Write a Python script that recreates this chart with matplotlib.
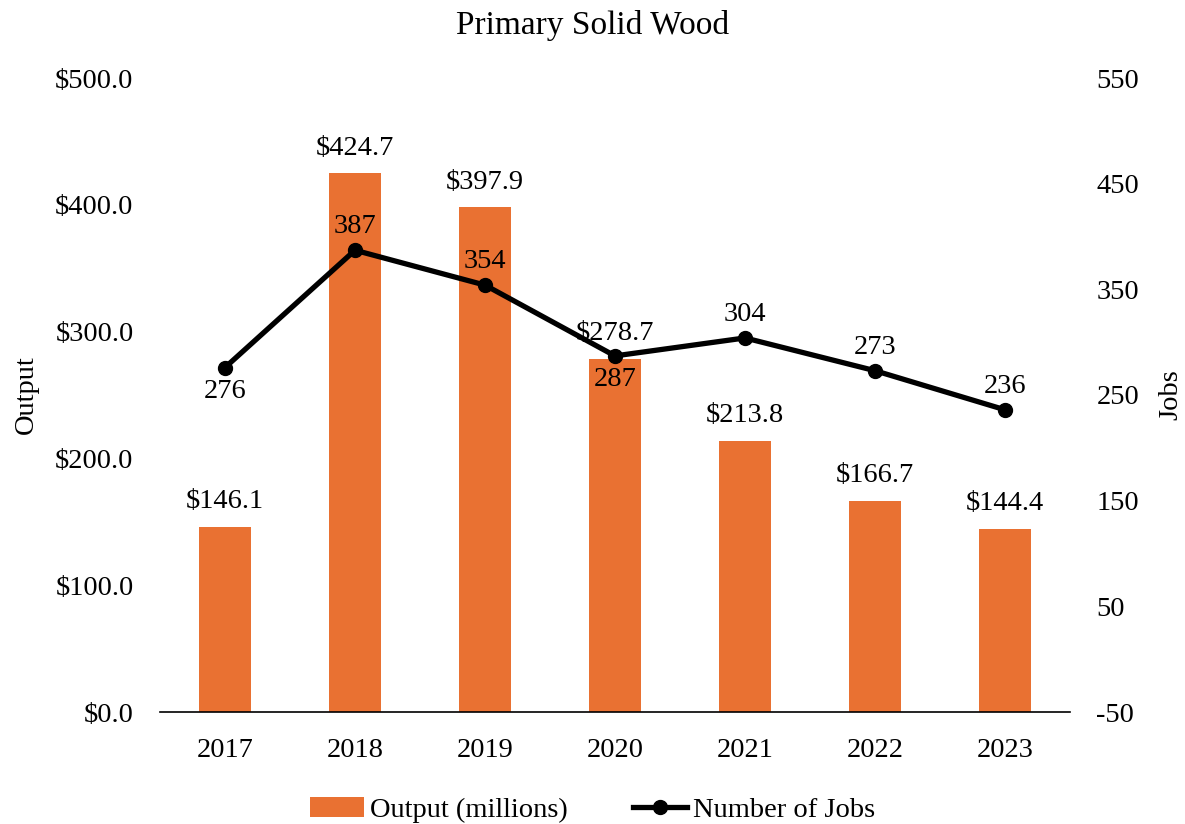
import matplotlib
matplotlib.use("Agg")
import matplotlib.pyplot as plt

years = ["2017", "2018", "2019", "2020", "2021", "2022", "2023"]
output = [146.1, 424.7, 397.9, 278.7, 213.8, 166.7, 144.4]
jobs = [276, 387, 354, 287, 304, 273, 236]
job_label_pos = ["below", "above", "above", "below", "above", "above", "above"]
left_ticks = [0, 100, 200, 300, 400, 500]
right_ticks = [-50, 50, 150, 250, 350, 450, 550]

plt.rcParams['font.family'] = ['Liberation Serif', 'DejaVu Serif']
FS = 20.5
fig = plt.figure(figsize=(11.85, 8.24), dpi=100)
ax = fig.add_axes([160/1185, 1-712/824, 910/1185, (712-78)/824])
ax2 = ax.twinx()

x = list(range(len(years)))
bars = ax.bar(x, output, width=0.4, color="#E97132", label="Output (millions)", zorder=2)
ax.set_xlim(-0.5, len(years)-0.5)
ax.set_ylim(0, 500)
ax.set_yticks(left_ticks)
ax.set_yticklabels([f"${v:.1f}" for v in left_ticks], fontsize=FS)
ax.set_xticks(x)
ax.set_xticklabels(years, fontsize=FS)
ax.tick_params(axis='x', length=0, pad=19)
ax.tick_params(axis='y', length=0, pad=19)
for s in ["top", "left", "right"]:
    ax.spines[s].set_visible(False)
ax.spines["bottom"].set_linewidth(1.2)
for xi, v in zip(x, output):
    ax.annotate(f"${v:.1f}", (xi, v), xytext=(0, 9), textcoords="offset points",
                ha="center", va="bottom", fontsize=FS)
ax.set_ylabel("Output", fontsize=FS, labelpad=12)

ln, = ax2.plot(x, jobs, color="black", lw=3.8, marker="o", markersize=10,
               label="Number of Jobs", zorder=3)
ax2.set_ylim(-50, 550)
ax2.set_yticks(right_ticks)
ax2.set_yticklabels([str(v) for v in right_ticks], fontsize=FS)
ax2.tick_params(axis='y', length=0, pad=19)
for s in ["top", "left", "right", "bottom"]:
    ax2.spines[s].set_visible(False)
for xi, v, pos in zip(x, jobs, job_label_pos):
    if pos == "above":
        ax2.annotate(str(v), (xi, v), xytext=(0, 8), textcoords="offset points",
                     ha="center", va="bottom", fontsize=FS)
    else:
        ax2.annotate(str(v), (xi, v), xytext=(0, -8), textcoords="offset points",
                     ha="center", va="top", fontsize=FS)
ax2.set_ylabel("Jobs", fontsize=FS, labelpad=14)

fig.suptitle("Primary Solid Wood", fontsize=FS+3.5, y=0.988)
fig.legend(handles=[bars, ln], loc="lower center", bbox_to_anchor=(0.5, -0.03),
           ncol=2, frameon=False, fontsize=FS, handlelength=1.9, columnspacing=2.3,
           handletextpad=0.2)

fig.savefig("out.png", dpi=100)
